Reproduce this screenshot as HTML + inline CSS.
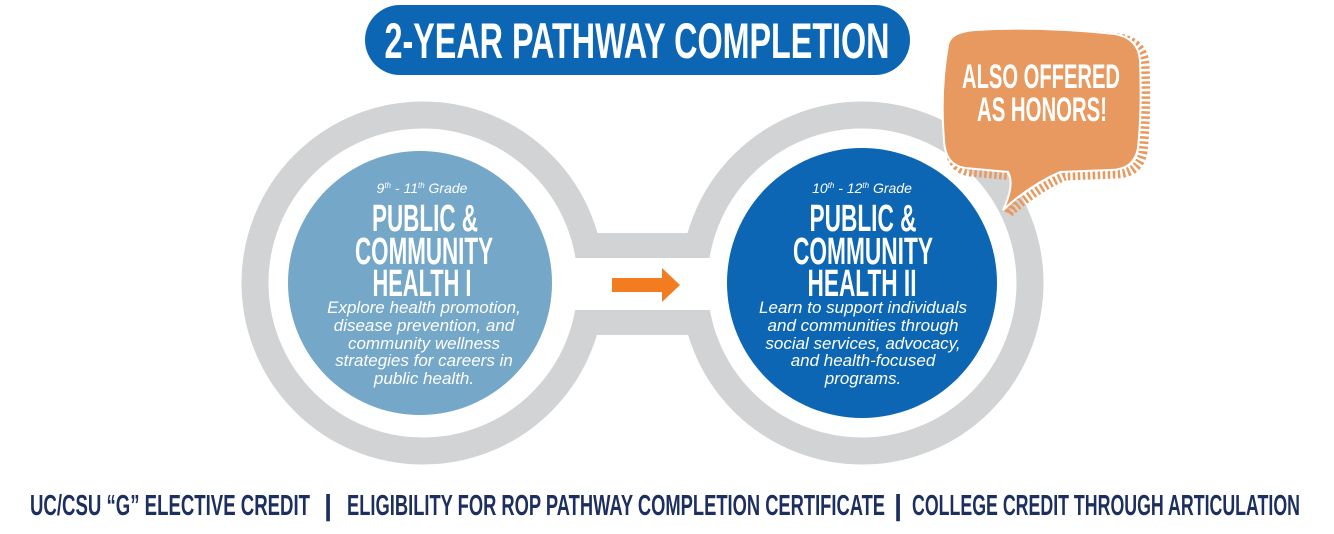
<!DOCTYPE html>
<html><head><meta charset="utf-8"><style>
html,body{margin:0;padding:0;background:#fff;}
svg{display:block;}
.c{font-family:"Liberation Sans",sans-serif;font-weight:bold;}
.i{font-family:"Liberation Sans",sans-serif;font-style:italic;}
</style></head><body>
<svg width="1334" height="534" viewBox="0 0 1334 534" xmlns="http://www.w3.org/2000/svg">
<g fill="none" stroke="#d1d3d4" stroke-width="27">
<circle cx="423" cy="283" r="168"/>
<circle cx="862" cy="283" r="168"/>
</g>
<rect x="580" y="233" width="125" height="102" fill="#d1d3d4"/>
<rect x="560" y="258" width="170" height="52" fill="#fff"/>
<circle cx="423" cy="283" r="154" fill="#fff"/>
<circle cx="862" cy="283" r="154" fill="#fff"/>
<circle cx="420" cy="283" r="132" fill="#75a7c8"/>
<circle cx="862" cy="283" r="135" fill="#0c66b3"/>
<polygon points="612,278 662,278 662,268 680,285 662,302 662,292 612,292" fill="#f47c20"/>
<rect x="365" y="5" width="545" height="70" rx="35" fill="#0c66b3"/>
<text class="c" x="637" y="58" text-anchor="middle" font-size="50" fill="#fff" textLength="505" lengthAdjust="spacingAndGlyphs">2-YEAR PATHWAY COMPLETION</text>
<path d="M948,45 Q950,32 975,30 Q1040,26 1115,34 Q1138,38 1140,60 Q1142,110 1138,148 Q1134,170 1110,170 L1060,172 Q1030,185 1003,210 Q1015,185 1008,172 L965,168 Q945,165 944,140 Q940,90 948,45 Z" fill="none" stroke="#e8995f" stroke-width="9" stroke-dasharray="2.5 2.5" transform="translate(5,4)"/>
<path d="M948,45 Q950,32 975,30 Q1040,26 1115,34 Q1138,38 1140,60 Q1142,110 1138,148 Q1134,170 1110,170 L1060,172 Q1030,185 1003,210 Q1015,185 1008,172 L965,168 Q945,165 944,140 Q940,90 948,45 Z" fill="#e8995f" stroke="#fff" stroke-width="2"/>
<text class="c" x="1041" y="88" text-anchor="middle" font-size="34" fill="#fff" textLength="158" lengthAdjust="spacingAndGlyphs">ALSO OFFERED</text>
<text class="c" x="1042" y="121" text-anchor="middle" font-size="34" fill="#fff" textLength="130" lengthAdjust="spacingAndGlyphs">AS HONORS!</text>
<g fill="#fff">
<text class="i" x="422" y="193" text-anchor="middle" font-size="14">9<tspan font-size="8" dy="-5">th</tspan><tspan dy="5"> - 11</tspan><tspan font-size="8" dy="-5">th</tspan><tspan dy="5">  Grade</tspan></text>
<text class="c" x="425" y="231" text-anchor="middle" font-size="38" textLength="106" lengthAdjust="spacingAndGlyphs">PUBLIC &amp;</text>
<text class="c" x="424" y="264" text-anchor="middle" font-size="38" textLength="138" lengthAdjust="spacingAndGlyphs">COMMUNITY</text>
<text class="c" x="422" y="296" text-anchor="middle" font-size="38" textLength="99" lengthAdjust="spacingAndGlyphs">HEALTH I</text>
<g class="i" font-size="17" text-anchor="middle">
<text x="424" y="313">Explore health promotion,</text>
<text x="424" y="331">disease prevention, and</text>
<text x="424" y="349">community wellness</text>
<text x="424" y="366">strategies for careers in</text>
<text x="424" y="384">public health.</text>
</g>
<text class="i" x="862" y="193" text-anchor="middle" font-size="14">10<tspan font-size="8" dy="-5">th</tspan><tspan dy="5"> - 12</tspan><tspan font-size="8" dy="-5">th</tspan><tspan dy="5"> Grade</tspan></text>
<text class="c" x="863" y="231" text-anchor="middle" font-size="38" textLength="107" lengthAdjust="spacingAndGlyphs">PUBLIC &amp;</text>
<text class="c" x="863" y="264" text-anchor="middle" font-size="38" textLength="140" lengthAdjust="spacingAndGlyphs">COMMUNITY</text>
<text class="c" x="862" y="296" text-anchor="middle" font-size="38" textLength="109" lengthAdjust="spacingAndGlyphs">HEALTH II</text>
<g class="i" font-size="17" text-anchor="middle">
<text x="863" y="313">Learn to support individuals</text>
<text x="863" y="331">and communities through</text>
<text x="863" y="349">social services, advocacy,</text>
<text x="863" y="366">and health-focused</text>
<text x="863" y="384">programs.</text>
</g>
</g>
<g class="c" font-size="29" fill="#1d2f5e">
<text x="30" y="515" textLength="280" lengthAdjust="spacingAndGlyphs">UC/CSU “G” ELECTIVE CREDIT</text>
<text x="324" y="515">|</text>
<text x="347" y="515" textLength="538" lengthAdjust="spacingAndGlyphs">ELIGIBILITY FOR ROP PATHWAY COMPLETION CERTIFICATE</text>
<text x="894" y="515">|</text>
<text x="912" y="515" textLength="388" lengthAdjust="spacingAndGlyphs">COLLEGE CREDIT THROUGH ARTICULATION</text>
</g>
</svg>
</body></html>
